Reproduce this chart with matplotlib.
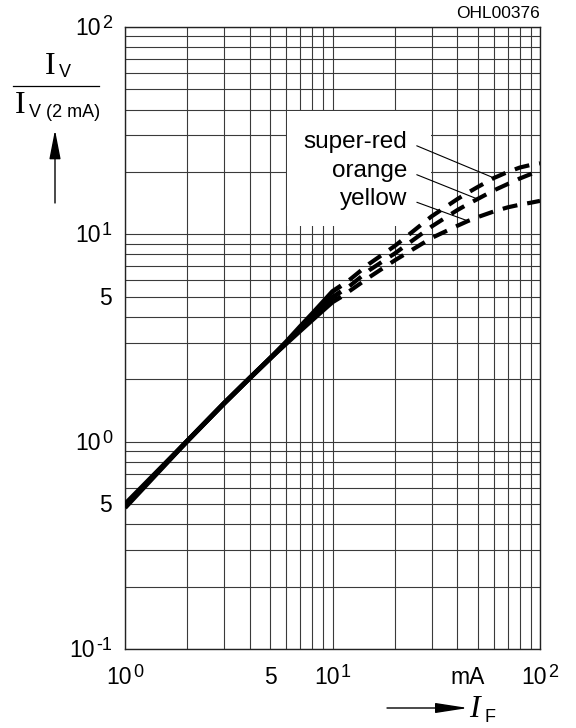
import matplotlib
matplotlib.use("Agg")
import matplotlib.pyplot as plt
from matplotlib.lines import Line2D
from matplotlib.patches import Rectangle
from matplotlib.ticker import FixedLocator, NullFormatter

plt.rcParams['font.family'] = ['Liberation Sans', 'DejaVu Sans']

# forward current in mA
i_f = [1, 2, 3, 4, 5, 6, 7, 8, 9, 10, 11, 12, 15, 20, 30, 40, 45, 50, 60, 70, 80, 90, 100]
# relative luminous intensity Iv / Iv(2 mA)
super_red = [0.48, 1.01, 1.53, 2.03, 2.52, 3.04, 3.6, 4.15, 4.72, 5.3, 5.65, 6.0, 7.2, 8.8,
             12.2, 14.8, 15.9, 16.9, 18.7, 20.0, 21.0, 21.6, 22.0]
orange = [0.49, 1.01, 1.53, 2.03, 2.52, 3.01, 3.5, 3.99, 4.48, 4.97, 5.3, 5.6, 6.7, 8.1,
          10.9, 13.1, 14.0, 14.8, 16.3, 17.5, 18.6, 19.5, 20.2]
yellow = [0.50, 1.01, 1.53, 2.03, 2.52, 2.98, 3.43, 3.87, 4.3, 4.72, 5.0, 5.3, 6.2, 7.5,
          9.6, 11.0, 11.6, 12.1, 12.9, 13.5, 13.9, 14.2, 14.5]
n_solid = 11  # solid up to 11 mA, dashed above

series_names = ['super-red', 'orange', 'yellow']
pointer_at = [60, 50, 45]  # mA where the label pointer touches the curve

grid_x = [1, 2, 3, 4, 5, 6, 7, 8, 9, 10, 20, 30, 40, 50, 60, 70, 80, 90, 100]
grid_y = [0.1, 0.2, 0.3, 0.4, 0.5, 0.6, 0.7, 0.8, 0.9, 1, 2, 3, 4, 5, 6, 7, 8, 9, 10,
          20, 30, 40, 50, 60, 70, 80, 90, 100]

# tick labels: (base, exponent); exponent None means plain label
x_tick_pos = [1, 5, 10, 100]
x_tick_txt = [('10', '0'), ('5', None), ('10', '1'), ('10', '2')]
y_tick_pos = [0.1, 0.5, 1, 5, 10, 100]
y_tick_txt = [('10', '-1'), ('5', None), ('10', '0'), ('5', None), ('10', '1'), ('10', '2')]

W, H = 576, 728


def fp(x, y):
    # pixel position (from top-left) -> figure fraction
    return x / W, 1 - y / H


fig = plt.figure(figsize=(W / 100, H / 100), dpi=100)
ax = fig.add_axes([125 / W, 79 / H, 415 / W, 622 / H])
ax.set_xscale('log')
ax.set_yscale('log')
ax.set_xlim(1, 100)
ax.set_ylim(0.1, 100)

ax.xaxis.set_major_locator(FixedLocator(grid_x))
ax.yaxis.set_major_locator(FixedLocator(grid_y))
ax.xaxis.set_minor_locator(FixedLocator([]))
ax.yaxis.set_minor_locator(FixedLocator([]))
ax.xaxis.set_major_formatter(NullFormatter())
ax.yaxis.set_major_formatter(NullFormatter())
ax.tick_params(length=0)
ax.grid(True, color='#3a3a3a', lw=0.8)
for sp in ax.spines.values():
    sp.set_color('#222222')
    sp.set_linewidth(1.0)

# white box behind the labels
ax.add_patch(Rectangle((6.05, 11.0), 23.7, 28.5, facecolor='white', edgecolor='none', zorder=1.8))

for s in [super_red, orange, yellow]:
    ax.plot(i_f[:n_solid], s[:n_solid], color='k', lw=3.4, solid_capstyle='butt', zorder=3)
    ax.plot(i_f[n_solid - 1:], s[n_solid - 1:], color='k', lw=3.0,
            ls=(3.6, (3.6, 2.4)), dash_capstyle='butt', zorder=3)

label_xy = [(23.0, 26.1), (23.0, 18.9), (23.0, 13.87)]
for name, s, px, txy in zip(series_names, [super_red, orange, yellow], pointer_at, label_xy):
    ax.annotate(name, xy=(px, s[i_f.index(px)]), xytext=txy, ha='right', va='baseline',
                fontsize=17.5, zorder=5,
                arrowprops=dict(arrowstyle='-', lw=0.8, color='k', shrinkA=5, shrinkB=0,
                                relpos=(1, 0.5)))

renderer = fig.canvas.get_renderer()
fs_base, fs_exp, raise_px = 16.5, 13, 7

# x tick labels, baseline 35 px under the axis
for v, (b, e) in zip(x_tick_pos, x_tick_txt):
    xy = dict(xy=(v, 0), xycoords=('data', 'axes fraction'), textcoords='offset pixels',
              va='baseline', annotation_clip=False)
    if e is None:
        ax.annotate(b, xytext=(0, -35), ha='center', fontsize=fs_base, **xy)
    else:
        ax.annotate(b, xytext=(7, -35), ha='right', fontsize=fs_base, **xy)
        ax.annotate(e, xytext=(8, -35 + raise_px), ha='left', fontsize=fs_exp, **xy)
ax.annotate('mA', xy=(45, 0), xycoords=('data', 'axes fraction'), xytext=(0, -35),
            textcoords='offset pixels', ha='center', va='baseline', fontsize=fs_base)

# y tick labels, right edge 13 px left of the axis
for v, (b, e) in zip(y_tick_pos, y_tick_txt):
    xy = dict(xy=(0, v), xycoords=('axes fraction', 'data'), textcoords='offset pixels',
              va='baseline', ha='right', annotation_clip=False)
    if e is None:
        ax.annotate(b, xytext=(-13, -8), fontsize=fs_base, **xy)
    else:
        te = ax.annotate(e, xytext=(-13, -8 + raise_px), fontsize=fs_exp, **xy)
        w = te.get_window_extent(renderer).width
        ax.annotate(b, xytext=(-14 - w, -8), fontsize=fs_base, **xy)

# y axis label: Iv / Iv(2 mA) with arrow
fig.text(*fp(45, 74), 'I', family='Liberation Serif', fontsize=23, va='baseline')
fig.text(*fp(59, 77), 'V', fontsize=13, va='baseline')
fig.add_artist(Line2D([13 / W, 99 / W], [1 - 86 / H] * 2, color='k', lw=0.9))
fig.text(*fp(15, 113), 'I', family='Liberation Serif', fontsize=23, va='baseline')
fig.text(*fp(29, 117), 'V (2 mA)', fontsize=13, va='baseline')
ax.annotate('', xy=fp(55, 130), xytext=fp(55, 203), xycoords='figure fraction',
            arrowprops=dict(arrowstyle='-|>,head_length=1.8,head_width=0.35',
                            color='k', lw=1, shrinkA=0, shrinkB=0), annotation_clip=False)

# x axis label: IF with arrow
ax.annotate('', xy=fp(468, 708), xytext=fp(387, 708), xycoords='figure fraction',
            arrowprops=dict(arrowstyle='-|>,head_length=2.0,head_width=0.31',
                            color='k', lw=1, shrinkA=0, shrinkB=0), annotation_clip=False)
fig.text(*fp(469, 717), 'I', family='Liberation Serif', style='italic', fontsize=23, va='baseline')
fig.text(*fp(485, 722), 'F', fontsize=13, va='baseline')

fig.text(*fp(540, 18), 'OHL00376', ha='right', va='baseline', fontsize=12.5)

fig.savefig('out.png', dpi=100)
